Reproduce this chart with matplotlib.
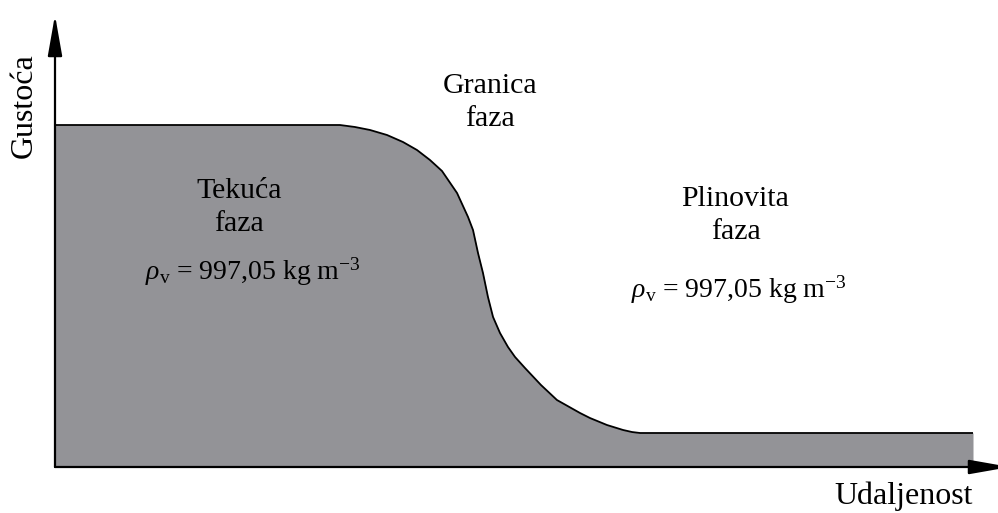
"""Density profile across a liquid / vapour phase boundary (schematic)."""

import matplotlib
matplotlib.use("Agg")
import matplotlib.pyplot as plt

plt.rcParams["font.family"] = ["Liberation Serif", "DejaVu Serif"]
plt.rcParams["mathtext.fontset"] = "custom"
plt.rcParams["mathtext.rm"] = "Liberation Serif"
plt.rcParams["mathtext.it"] = "Liberation Serif:italic"

# profile (distance, density), arbitrary units 0..100
distance = [0.0, 30.32, 31.91, 33.51, 35.32, 37.02, 38.51, 39.89, 41.17,
            42.77, 43.94, 44.47, 45.00, 45.53, 46.06, 46.60, 47.34, 48.19,
            48.94, 50.00, 51.70, 53.40, 55.85, 56.91, 58.72, 60.43, 61.38,
            62.23, 97.66]
density = [75.66, 75.66, 75.22, 74.56, 73.45, 71.90, 70.13, 67.92, 65.49,
           60.62, 55.31, 52.43, 47.35, 42.92, 37.61, 33.19, 29.65, 26.55,
           24.34, 21.90, 18.14, 14.82, 11.95, 10.84, 9.29, 8.19, 7.74,
           7.52, 7.52]

label_liquid = "Tekuća\nfaza"
label_boundary = "Granica\nfaza"
label_gas = "Plinovita\nfaza"
label_rho = r"$\rho_{\mathrm{v}}$ = 997,05 kg m$^{-3}$"
xlabel = "Udaljenost"
ylabel = "Gustoća"

W, H = 998, 513
fig = plt.figure(figsize=(W / 100, H / 100), dpi=100)
ax = fig.add_axes([55 / W, 46 / H, 940 / W, 452 / H])
ax.set_xlim(0, 100)
ax.set_ylim(0, 100)
ax.axis("off")

ax.fill_between(distance, density, 0, color="#939397", lw=0)
ax.plot(distance, density, color="black", lw=1.3, solid_capstyle="butt")

# axes with arrow heads
arrow = dict(arrowstyle="-|>,head_length=1.25,head_width=0.22",
             mutation_scale=20, color="black", lw=1.6,
             shrinkA=0, shrinkB=0)
ax.annotate("", xy=(955 / 940, 0), xytext=(0, 0), xycoords="axes fraction",
            arrowprops=arrow, annotation_clip=False)
ax.annotate("", xy=(0, 1), xytext=(0, 0), xycoords="axes fraction",
            arrowprops=arrow, annotation_clip=False)

fs = 21.5
ax.text(19.6, 57.4, label_liquid, ha="center", va="center", fontsize=fs,
        linespacing=1.36)
ax.text(21.0, 43.1, label_rho, ha="center", va="center", fontsize=20)
ax.text(46.3, 80.6, label_boundary, ha="center", va="center", fontsize=fs,
        linespacing=1.36)
ax.text(72.4, 55.6, label_gas, ha="center", va="center", fontsize=fs,
        linespacing=1.36)
ax.text(72.7, 39.2, label_rho, ha="center", va="center", fontsize=20)
ax.text(-3.3, 79.9, ylabel, ha="center", va="center", rotation=90,
        fontsize=23, clip_on=False)
ax.text(90.3, -6.4, xlabel, ha="center", va="center", fontsize=23,
        clip_on=False)

fig.savefig("out.png", dpi=100)
